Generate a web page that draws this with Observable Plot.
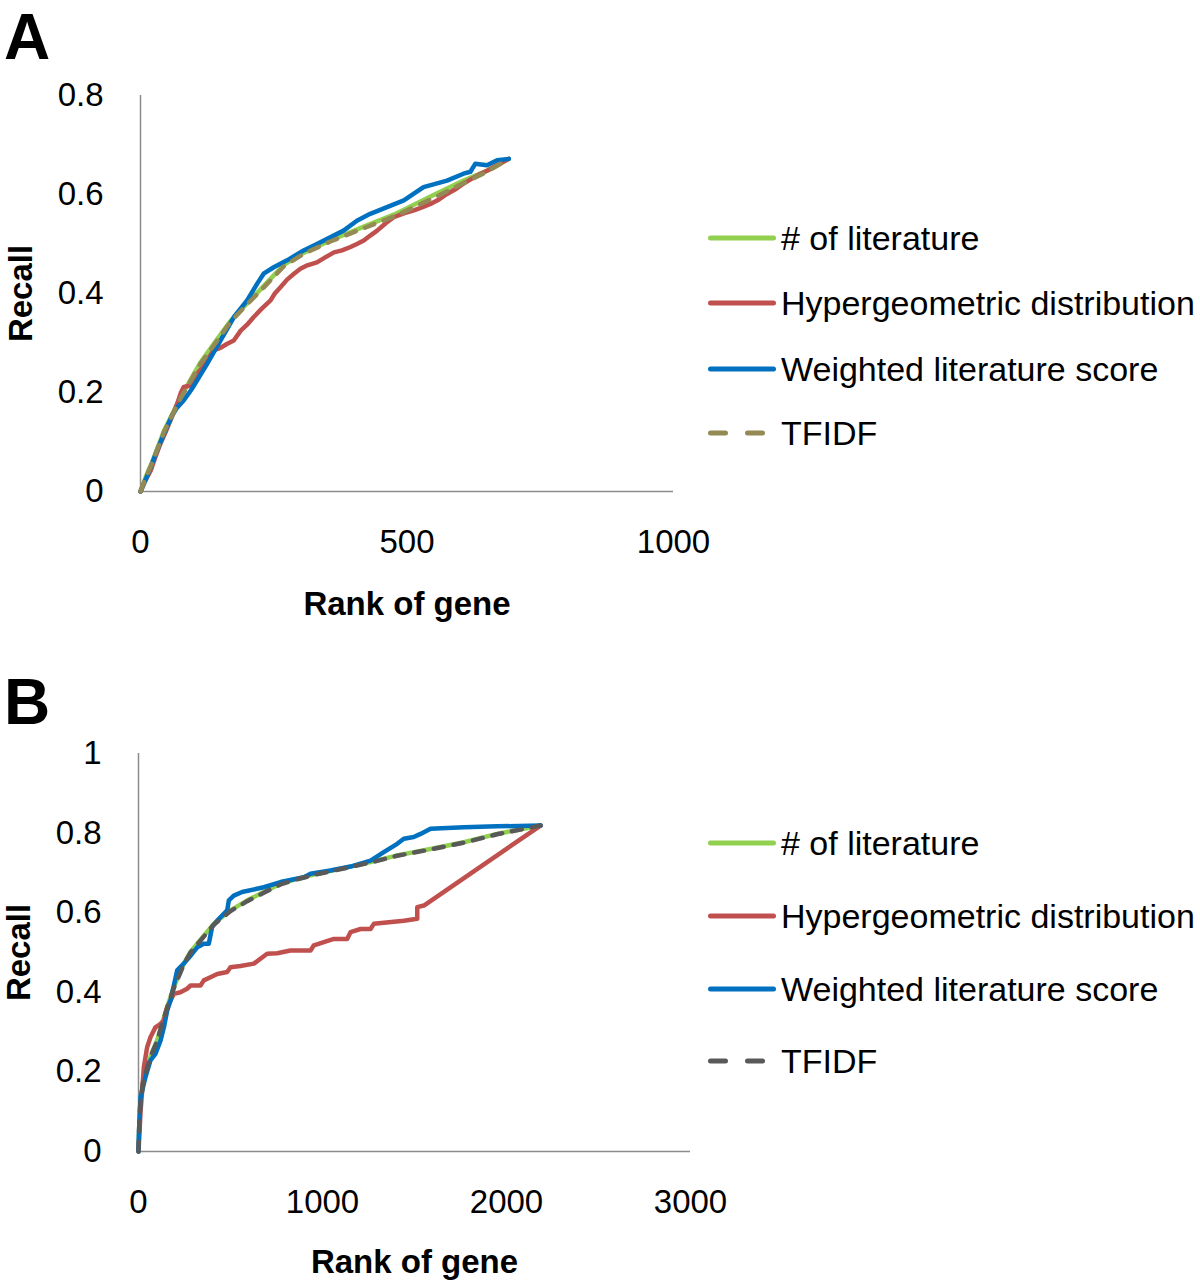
<!DOCTYPE html>
<html><head><meta charset="utf-8">
<script src="https://cdn.jsdelivr.net/npm/d3@7"></script>
<script src="https://cdn.jsdelivr.net/npm/@observablehq/plot@0.6"></script>
<style>
body{margin:0;background:#fff;}
#wrap{position:relative;width:1200px;height:1282px;overflow:hidden;font-family:"Liberation Sans",Arial,sans-serif;color:#000;}
.panel{position:absolute;left:0;}
.letter{position:absolute;left:4px;font-weight:bold;font-size:64px;line-height:64px;height:64px;transform:translateY(-50%);}
.leg{position:absolute;left:708px;height:34px;display:flex;align-items:center;font-size:34px;line-height:34px;transform:translateY(-50%);white-space:nowrap;}
.leg svg{flex:none;}
</style></head>
<body><div id="wrap"></div>
<script>
// ---------- data ----------
const seriesNames = ["# of literature", "Hypergeometric distribution", "Weighted literature score", "TFIDF"];
const xTicksA = [0, 500, 1000];
const yTicksA = [0, 0.2, 0.4, 0.6, 0.8];
const xTicksB = [0, 1000, 2000, 3000];
const yTicksB = [0, 0.2, 0.4, 0.6, 0.8, 1];
const xLabel = "Rank of gene";
const yLabel = "Recall";

// Panel A  [rank, recall]
const A_literature = [[0,0],[10,0.03],[22,0.06],[44,0.122],[75,0.19],[112,0.26],[144,0.308],[169,0.345],[200,0.38],[231,0.415],[269,0.458],[306,0.482],[356,0.507],[419,0.535],[481,0.562],[544,0.596],[606,0.628],[650,0.648],[691,0.672]];
const A_hyper = [[0,0],[8,0.02],[19,0.042],[28,0.07],[37,0.096],[47,0.12],[56,0.143],[68,0.175],[76,0.2],[81,0.211],[94,0.214],[106,0.238],[118,0.252],[125,0.265],[137,0.285],[150,0.29],[162,0.298],[175,0.305],[188,0.325],[200,0.337],[212,0.352],[228,0.37],[244,0.386],[252,0.4],[263,0.413],[275,0.428],[288,0.44],[300,0.45],[313,0.457],[331,0.463],[345,0.472],[363,0.483],[378,0.487],[394,0.494],[406,0.5],[419,0.507],[431,0.517],[444,0.527],[460,0.542],[475,0.554],[494,0.562],[513,0.568],[528,0.574],[544,0.581],[560,0.59],[575,0.601],[590,0.61],[606,0.622],[622,0.632],[638,0.642],[654,0.65],[669,0.659],[691,0.672]];
const A_weighted = [[0,0],[10,0.025],[19,0.049],[30,0.08],[44,0.117],[60,0.155],[69,0.17],[81,0.184],[95,0.205],[106,0.224],[125,0.258],[150,0.305],[175,0.352],[200,0.386],[219,0.42],[231,0.44],[250,0.453],[275,0.467],[306,0.487],[331,0.5],[381,0.527],[406,0.547],[431,0.561],[494,0.588],[531,0.615],[575,0.628],[606,0.642],[619,0.646],[628,0.662],[650,0.659],[669,0.669],[691,0.672]];
const A_tfidf = [[0,0],[10,0.028],[22,0.058],[44,0.12],[75,0.188],[112,0.257],[144,0.305],[169,0.343],[200,0.378],[231,0.412],[269,0.455],[306,0.48],[356,0.505],[419,0.532],[481,0.558],[544,0.59],[606,0.623],[650,0.646],[691,0.672]];

// Panel B  [rank, recall]
const B_literature = [[0,0],[5,0.08],[11,0.128],[25,0.175],[47,0.212],[70,0.245],[101,0.279],[130,0.325],[156,0.363],[192,0.413],[246,0.472],[280,0.5],[319,0.522],[409,0.572],[500,0.606],[591,0.631],[681,0.652],[772,0.673],[862,0.685],[953,0.696],[1134,0.714],[1261,0.727],[1406,0.744],[1587,0.76],[1768,0.777],[1949,0.798],[2185,0.819]];
const B_hyper = [[0,0],[11,0.1],[20,0.153],[29,0.212],[47,0.262],[65,0.287],[92,0.312],[120,0.321],[138,0.329],[156,0.363],[192,0.396],[228,0.4],[264,0.409],[283,0.417],[337,0.417],[355,0.43],[391,0.438],[428,0.446],[482,0.451],[500,0.463],[554,0.466],[627,0.472],[699,0.497],[754,0.498],[826,0.505],[935,0.505],[953,0.518],[1007,0.526],[1062,0.534],[1134,0.534],[1152,0.551],[1207,0.559],[1261,0.559],[1279,0.572],[1442,0.58],[1515,0.585],[1515,0.614],[1551,0.618],[2185,0.819]];
const B_weighted = [[0,0],[2,0.044],[11,0.136],[38,0.187],[65,0.229],[92,0.245],[120,0.279],[138,0.312],[156,0.354],[174,0.379],[210,0.455],[246,0.472],[283,0.492],[319,0.513],[355,0.522],[382,0.522],[400,0.564],[428,0.58],[482,0.606],[491,0.631],[518,0.643],[563,0.652],[681,0.664],[772,0.677],[899,0.689],[935,0.698],[1043,0.706],[1152,0.716],[1261,0.731],[1333,0.752],[1406,0.773],[1442,0.786],[1496,0.79],[1533,0.798],[1587,0.811],[1768,0.815],[1949,0.817],[2185,0.819]];
const B_tfidf = [[0,0],[5,0.078],[11,0.126],[25,0.173],[47,0.21],[70,0.243],[101,0.277],[130,0.323],[156,0.361],[192,0.411],[246,0.47],[280,0.498],[319,0.52],[409,0.57],[500,0.604],[591,0.629],[681,0.65],[772,0.671],[862,0.684],[953,0.695],[1134,0.713],[1261,0.726],[1406,0.743],[1587,0.759],[1768,0.776],[1949,0.797],[2185,0.819]];

// ---------- styles ----------
const colors = {lit:"#92D050", hyper:"#C0504D", weighted:"#0070C0", tfidfA:"#948A54", tfidfB:"#595959"};
const fmt = d => String(d);
const wrap = document.getElementById("wrap");

function panel(cfg) {
  const lineOpts = {x: d => d[0], y: d => d[1], strokeWidth: 4.5, strokeLinejoin: "round"};
  const svg = Plot.plot({
    width: 720, height: cfg.height,
    marginLeft: cfg.ml, marginRight: cfg.mr, marginTop: cfg.mt, marginBottom: cfg.mb,
    x: {domain: cfg.xDomain},
    y: {domain: cfg.yDomain},
    style: {fontFamily: '"Liberation Sans", Arial, sans-serif', background: "transparent", color: "#000", overflow: "visible"},
    marks: [
      Plot.ruleY([0], {stroke: "#8c8c8c", strokeWidth: 1.5}),
      Plot.ruleX([0], {stroke: "#8c8c8c", strokeWidth: 1.5}),
      Plot.axisX({ticks: cfg.xTicks, tickFormat: fmt, tickSize: 0, tickPadding: 38, fontSize: 33, label: null}),
      Plot.axisY({ticks: cfg.yTicks, tickFormat: fmt, tickSize: 0, tickPadding: 37, fontSize: 33, label: null}),
      Plot.text([xLabel], {frameAnchor: "bottom", lineAnchor: "middle", textAnchor: "middle", dy: cfg.xLabelDy, fontSize: 33, fontWeight: "bold"}),
      Plot.text([yLabel], {frameAnchor: "left", lineAnchor: "middle", textAnchor: "middle", dx: -119, rotate: -90, fontSize: 33, fontWeight: "bold"}),
      Plot.line(cfg.lit, {...lineOpts, stroke: colors.lit}),
      Plot.line(cfg.hyper, {...lineOpts, stroke: colors.hyper}),
      Plot.line(cfg.weighted, {...lineOpts, stroke: colors.weighted}),
      Plot.line(cfg.tfidf, {...lineOpts, stroke: cfg.tfidfColor, strokeDasharray: "10,10", strokeLinecap: "round"})
    ]
  });
  svg.classList.add("panel");
  svg.style.top = cfg.top + "px";
  wrap.appendChild(svg);

  const letter = document.createElement("div");
  letter.className = "letter";
  letter.textContent = cfg.letter;
  letter.style.top = cfg.letterY + "px";
  wrap.appendChild(letter);

  const swatchColors = [colors.lit, colors.hyper, colors.weighted, cfg.tfidfColor];
  seriesNames.forEach((name, i) => {
    const item = document.createElement("div");
    item.className = "leg";
    item.style.top = cfg.legendY[i] + "px";
    const dashed = i === 3;
    item.innerHTML = `<svg width="73" height="12"><line x1="2.5" x2="${dashed ? 57 : 65.5}" y1="6" y2="6" stroke="${swatchColors[i]}" stroke-width="5" stroke-linecap="round" ${dashed ? 'stroke-dasharray="15,22"' : ''}/></svg><span>${name}</span>`;
    wrap.appendChild(item);
  });
}

panel({letter: "A", letterY: 37, top: 0, height: 640, ml: 140, mr: 47, mt: 95, mb: 149, xLabelDy: 113,
  xDomain: [0, 1000], yDomain: [0, 0.8], xTicks: xTicksA, yTicks: yTicksA,
  lit: A_literature, hyper: A_hyper, weighted: A_weighted, tfidf: A_tfidf, tfidfColor: colors.tfidfA,
  legendY: [238, 303, 369, 433]});
panel({letter: "B", letterY: 702, top: 640, height: 642, ml: 138, mr: 30, mt: 113, mb: 131, xLabelDy: 111,
  xDomain: [0, 3000], yDomain: [0, 1], xTicks: xTicksB, yTicks: yTicksB,
  lit: B_literature, hyper: B_hyper, weighted: B_weighted, tfidf: B_tfidf, tfidfColor: colors.tfidfB,
  legendY: [843, 916, 989, 1061]});
</script></body></html>
